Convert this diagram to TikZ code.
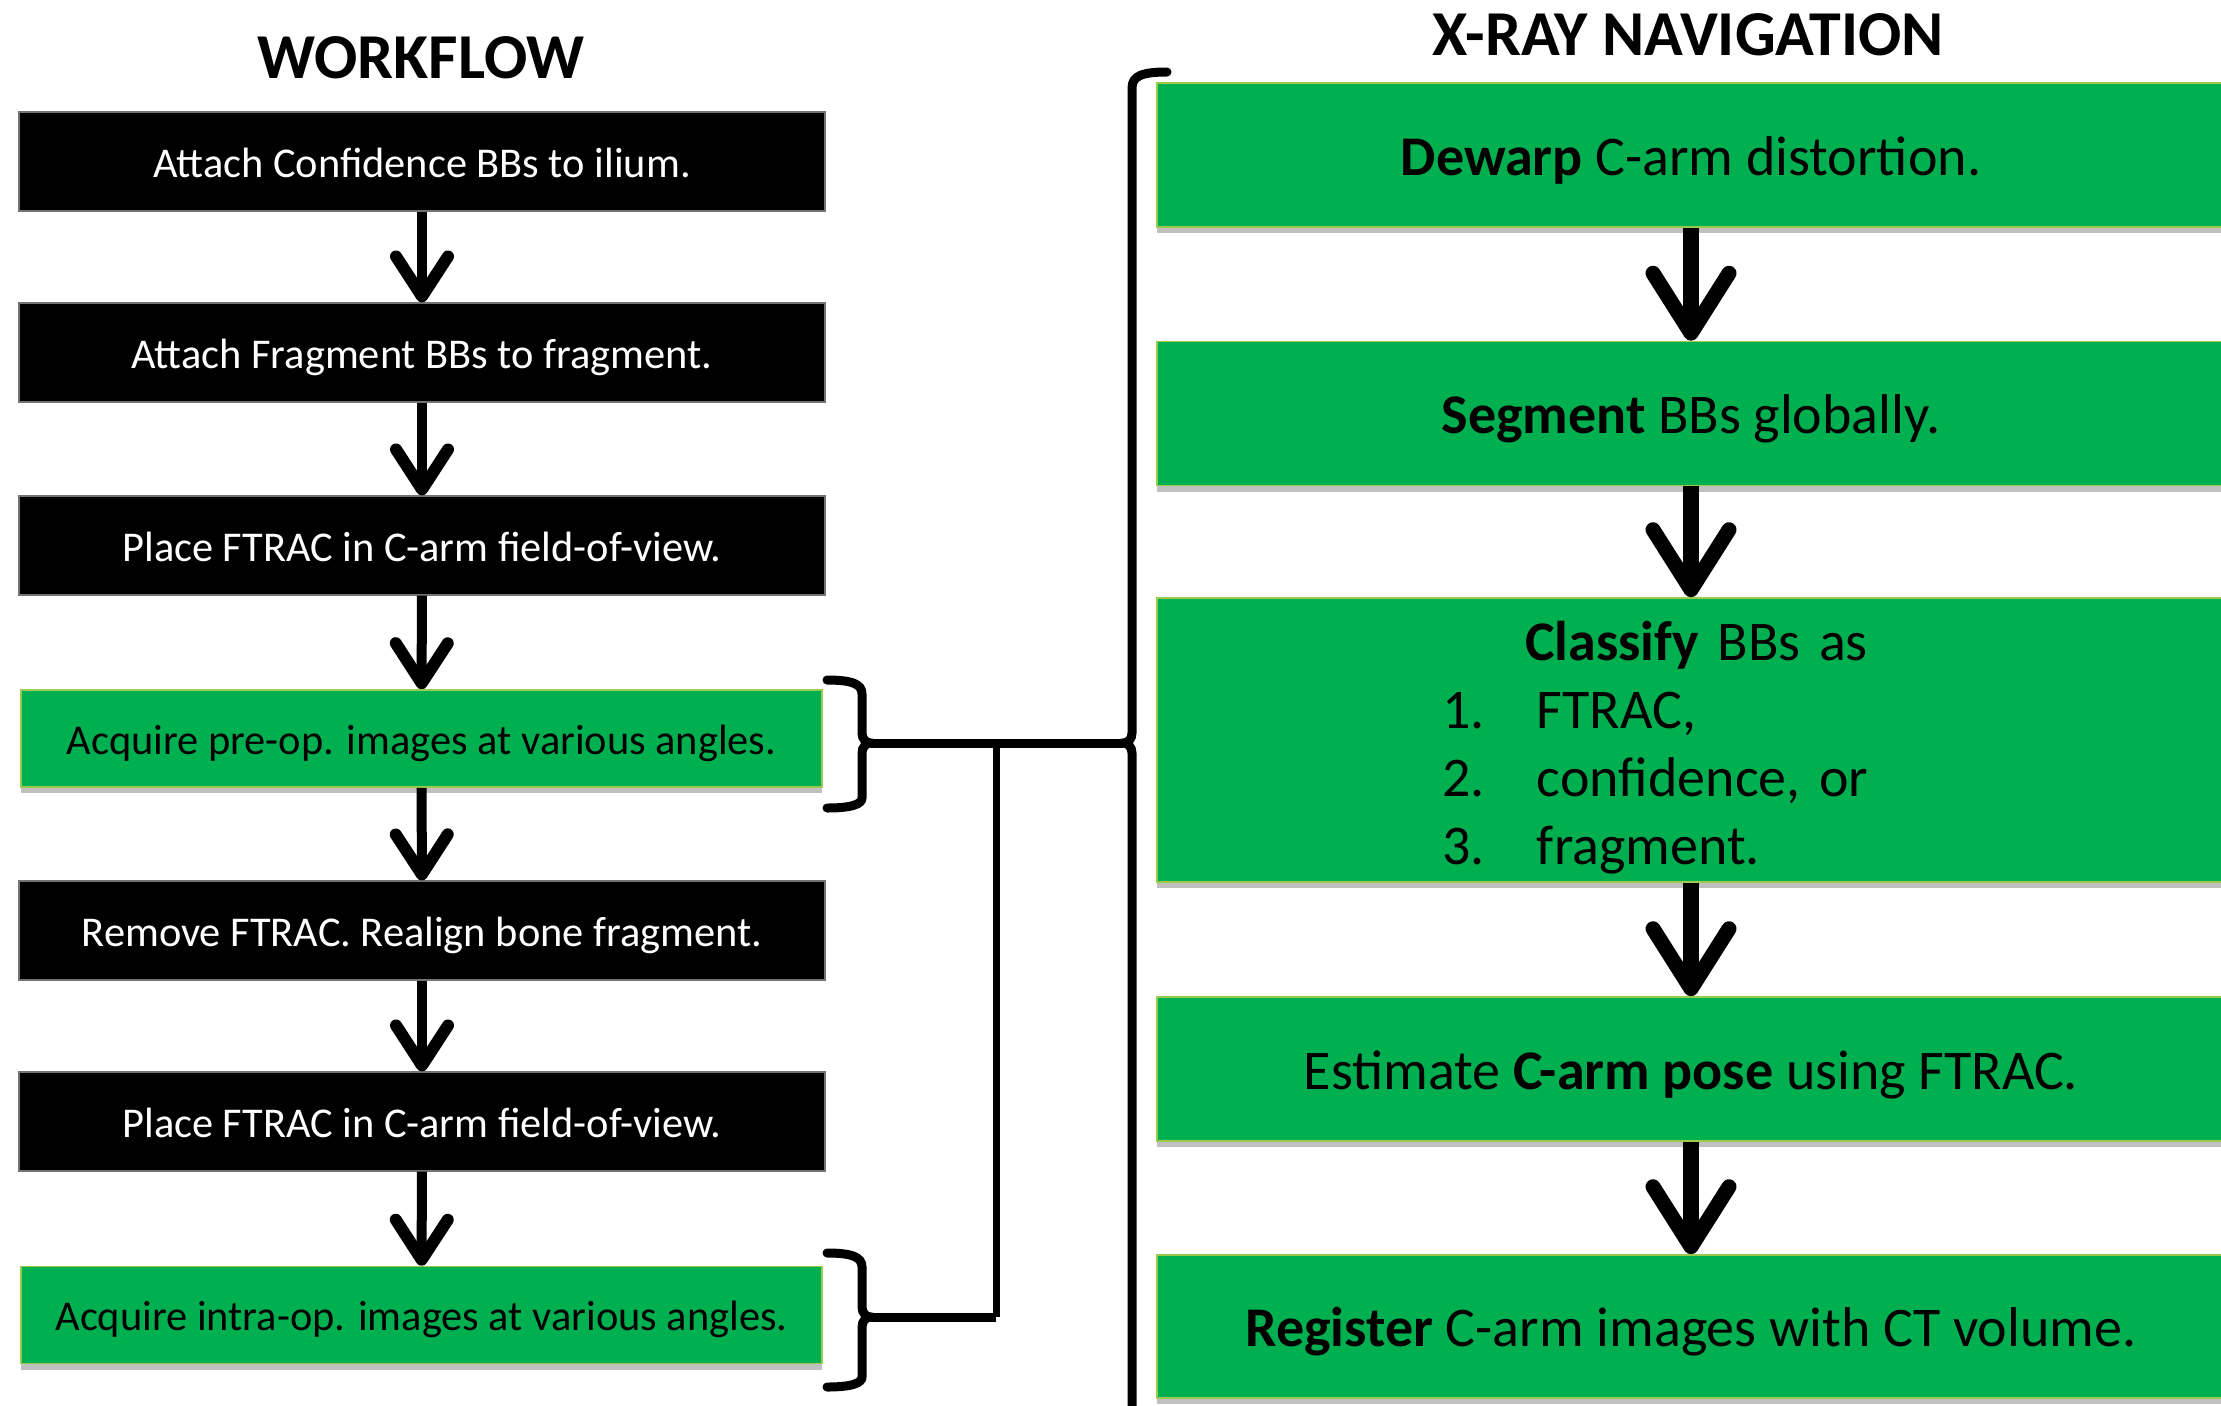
\documentclass[tikz,border=0pt]{standalone}
\usepackage{fontspec}
\setmainfont{Carlito}
\usetikzlibrary{arrows.meta,shadows}
\definecolor{pgreen}{HTML}{00B050}
\definecolor{pedge}{HTML}{9BCB4E}
\begin{document}
\begin{tikzpicture}[
  x=0.5pt, y=-0.5pt,
  boxshadow/.style={drop shadow={shadow xshift=0pt, shadow yshift=-3pt, opacity=0.35, fill=black!70}},
  lbox/.style={rectangle, inner sep=0pt, minimum width=403pt, minimum height=49.5pt,
    font=\fontsize{21.2}{25}\selectfont, text height=15.5pt, text depth=0pt},
  blk/.style={lbox, fill=black, draw=black!55, line width=0.6pt, text=white},
  grn/.style={lbox, fill=pgreen, draw=pedge, line width=0.8pt, text=black, minimum width=400.5pt, minimum height=48.5pt, boxshadow},
  rbox/.style={rectangle, inner sep=0pt, fill=pgreen, draw=pedge, line width=0.8pt, minimum width=534pt, minimum height=72pt, font=\fontsize{28}{34}\selectfont, boxshadow},
  rone/.style={rbox, text height=20pt, text depth=0pt},
  larr/.style={line width=5pt, -{Straight Barb[length=20pt, width=26pt, line width=6pt, round]}},
  rarr/.style={line width=8pt, -{Straight Barb[length=30pt, width=38pt, line width=7.5pt, round]}},
  brk/.style={line width=4.5pt, line cap=round},
  conn/.style={line width=4.5pt},
  conn2/.style={line width=3.5pt},
  title/.style={font=\fontsize{32}{38}\selectfont\bfseries, inner sep=0pt, anchor=base},
]
\useasboundingbox (0,0) rectangle (2221,1405);
\fill[white] (0,0) rectangle (2221,1405);

% titles
\node[title] (t1) at (421,78) {WORKFLOW};
\node[title] (t2) at (1688,55) {X-RAY NAVIGATION};

% left column
\node[blk] (b1) at (422,161.5) {Attach Confidence BBs to ilium.};
\node[blk] (b2) at (422,352.5) {Attach Fragment BBs to fragment.};
\node[blk] (b3) at (422,545.5) {Place FTRAC in C-arm field-of-view.};
\node[grn] (b4) at (421.5,738.5) {Acquire pre-op. images at various angles.};
\node[blk] (b5) at (422,930.5) {Remove FTRAC. Realign bone fragment.};
\node[blk] (b6) at (422,1121.5) {Place FTRAC in C-arm field-of-view.};
\node[grn] (b7) at (421.5,1315) {Acquire intra-op. images at various angles.};

\foreach \a/\b in {b1/b2,b2/b3,b3/b4,b4/b5,b5/b6,b6/b7}
  \draw[larr] (\a) -- (\b);

% right column
\node[rone] (r1) at (1691,155) {\textbf{Dewarp} C-arm distortion.};
\node[rone] (r2) at (1691,413.5) {\textbf{Segment} BBs globally.};
\node[rbox, minimum height=142pt, text width=249pt, align=left] (r3) at (1691,740)
  {\rule{0pt}{27pt}\hspace*{41.5pt}\textbf{Classify} BBs as\\
   \makebox[47.5pt][l]{1.}FTRAC,\\
   \makebox[47.5pt][l]{2.}confidence, or\\
   \makebox[47.5pt][l]{3.}fragment.};
\node[rone] (r4) at (1691,1069) {Estimate \textbf{C-arm pose} using FTRAC.};
\node[rone, minimum height=71.5pt] (r5) at (1691,1326.5) {\textbf{Register} C-arm images with CT volume.};

\foreach \a/\b in {r1/r2,r2/r3,r3/r4,r4/r5}
  \draw[rarr] (\a) -- (\b);

% brackets
\coordinate (bl1) at (871,743);
\coordinate (bl2) at (871,1317);
\coordinate (bm) at (1123,743);
\coordinate (jn) at (996,743);

\draw[brk] (827,680) .. controls (852,680) and (862,684) .. (862,694) -- (862,733)
  .. controls (862,739) and (866,743) .. (bl1)
  .. controls (866,743) and (862,747) .. (862,753) -- (862,798)
  .. controls (862,804) and (852,808) .. (827,808);
\draw[brk] (827,1253) .. controls (852,1253) and (862,1257) .. (862,1267) -- (862,1307)
  .. controls (862,1313) and (866,1317) .. (bl2)
  .. controls (866,1317) and (862,1321) .. (862,1327) -- (862,1377)
  .. controls (862,1383) and (852,1387) .. (827,1387);
\draw[brk] (1167,72) .. controls (1142,72) and (1132,76) .. (1132,88) -- (1132,733)
  .. controls (1132,739) and (1128,743) .. (bm)
  .. controls (1128,743) and (1132,747) .. (1132,753) -- (1132,1420);

% connectors
\draw[conn] (bl1) -- (bm);
\draw[conn2] (jn) -- (jn |- bl2);
\draw[conn] (jn |- bl2) -- (bl2);
\end{tikzpicture}
\end{document}
